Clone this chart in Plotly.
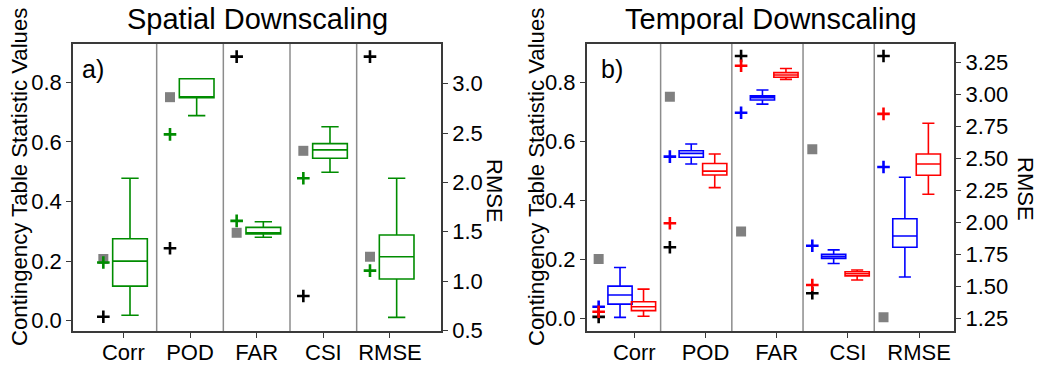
import plotly.graph_objects as go

categories = ["Corr", "POD", "FAR", "CSI", "RMSE"]

# ---- Spatial downscaling (panel a); last entry (RMSE) is on the right axis
spatial_lower = [0.018, 0.688, 0.280, 0.498, 0.633]
spatial_q1 = [0.116, 0.748, 0.291, 0.545, 1.022]
spatial_median = [0.200, 0.748, 0.295, 0.573, 1.247]
spatial_q3 = [0.275, 0.812, 0.313, 0.594, 1.467]
spatial_upper = [0.478, 0.812, 0.332, 0.651, 2.042]
spatial_gray = [0.207, 0.750, 0.295, 0.570, 1.247]
spatial_green_plus = [0.195, 0.625, 0.335, 0.478, 1.106]
spatial_black_plus = [0.013, 0.243, 0.886, 0.083, 3.274]

# ---- Temporal downscaling (panel b)
temporal_gray = [0.201, 0.751, 0.294, 0.573, 1.258]
temporal_black_plus = [0.005, 0.241, 0.889, 0.085, 3.302]
temporal_blue_plus = [0.039, 0.548, 0.697, 0.246, 2.434]
temporal_red_plus = [0.022, 0.322, 0.856, 0.113, 2.849]

blue_lower = [0.003, 0.523, 0.726, 0.186, 1.573]
blue_q1 = [0.048, 0.546, 0.740, 0.203, 1.806]
blue_median = [0.079, 0.559, 0.748, 0.210, 1.894]
blue_q3 = [0.109, 0.568, 0.754, 0.217, 2.029]
blue_upper = [0.172, 0.591, 0.774, 0.232, 2.353]

red_lower = [0.007, 0.443, 0.810, 0.130, 2.220]
red_q1 = [0.026, 0.486, 0.817, 0.144, 2.369]
red_median = [0.039, 0.499, 0.825, 0.151, 2.457]
red_q3 = [0.056, 0.525, 0.833, 0.158, 2.536]
red_upper = [0.099, 0.557, 0.847, 0.164, 2.776]

GREEN = "rgb(0,140,0)"
BLUE = "rgb(0,0,255)"
RED = "rgb(255,0,0)"
GRAY = "rgb(128,128,128)"
AX = "#3a3a3a"
FONT = "Liberation Sans, Arial, Helvetica, sans-serif"

fig = go.Figure()
n = len(categories)
idx = list(range(n))


def add_box(xpos, lo, q1, med, q3, hi, color, width, xa, ya_main, ya_rmse):
    # statistics boxes on the left axis (all but RMSE)
    fig.add_trace(go.Box(
        x=[xpos[i] for i in range(n - 1)],
        lowerfence=lo[:-1], q1=q1[:-1], median=med[:-1], q3=q3[:-1], upperfence=hi[:-1],
        width=width, whiskerwidth=0.5, fillcolor="rgba(255,255,255,0)",
        line=dict(color=color, width=1.6), boxpoints=False,
        xaxis=xa, yaxis=ya_main, showlegend=False, hoverinfo="skip"))
    fig.add_trace(go.Box(
        x=[xpos[-1]],
        lowerfence=lo[-1:], q1=q1[-1:], median=med[-1:], q3=q3[-1:], upperfence=hi[-1:],
        width=width, whiskerwidth=0.5, fillcolor="rgba(255,255,255,0)",
        line=dict(color=color, width=1.6), boxpoints=False,
        xaxis=xa, yaxis=ya_rmse, showlegend=False, hoverinfo="skip"))


def add_markers(xpos, vals, kind, color, xa, ya_main, ya_rmse):
    if kind == "square":
        marker = dict(symbol="square", size=10, color=color, line=dict(width=0))
    else:
        marker = dict(symbol="cross-thin", size=9, color=color, line=dict(color=color, width=2.6))
    fig.add_trace(go.Scatter(x=xpos[:-1], y=vals[:-1], mode="markers", marker=marker,
                             xaxis=xa, yaxis=ya_main, showlegend=False, hoverinfo="skip"))
    fig.add_trace(go.Scatter(x=xpos[-1:], y=vals[-1:], mode="markers", marker=marker,
                             xaxis=xa, yaxis=ya_rmse, showlegend=False, hoverinfo="skip"))


# Panel a
xa_mark = [i - 0.3 for i in idx]
xa_box = [i + 0.1 for i in idx]
add_box(xa_box, spatial_lower, spatial_q1, spatial_median, spatial_q3, spatial_upper,
        GREEN, 0.52, "x", "y", "y2")
add_markers(xa_mark, spatial_gray, "square", GRAY, "x", "y", "y2")
add_markers(xa_mark, spatial_green_plus, "plus", GREEN, "x", "y", "y2")
add_markers(xa_mark, spatial_black_plus, "plus", "black", "x", "y", "y2")

# Panel b
xb_mark = [i - 0.5 for i in idx]
xb_blue = [i - 0.2 for i in idx]
xb_red = [i + 0.13 for i in idx]
add_box(xb_blue, blue_lower, blue_q1, blue_median, blue_q3, blue_upper,
        BLUE, 0.34, "x2", "y3", "y4")
add_box(xb_red, red_lower, red_q1, red_median, red_q3, red_upper,
        RED, 0.34, "x2", "y3", "y4")
add_markers(xb_mark, temporal_gray, "square", GRAY, "x2", "y3", "y4")
add_markers(xb_mark, temporal_black_plus, "plus", "black", "x2", "y3", "y4")
add_markers(xb_mark, temporal_blue_plus, "plus", BLUE, "x2", "y3", "y4")
add_markers(xb_mark, temporal_red_plus, "plus", RED, "x2", "y3", "y4")

# separators
shapes = []
for i in range(n - 1):
    shapes.append(dict(type="line", xref="x", yref="y domain", x0=i + 0.5, x1=i + 0.5,
                       y0=0, y1=1, line=dict(color="#8c8c8c", width=1.5), layer="below"))
    shapes.append(dict(type="line", xref="x2", yref="y3 domain", x0=i + 0.37, x1=i + 0.37,
                       y0=0, y1=1, line=dict(color="#8c8c8c", width=1.5), layer="below"))

ydom = [0.103, 0.8808]
tickfont = dict(family=FONT, size=22, color="black")
common_x = dict(tickmode="array", tickvals=idx, ticktext=categories, ticks="outside",
                ticklen=5, tickcolor=AX, showline=True, linecolor=AX, linewidth=1.5,
                mirror=True, showgrid=False, zeroline=False, tickfont=tickfont,
                automargin=False, ticklabelstandoff=-4)
common_y = dict(ticks="outside", ticklen=5, tickcolor=AX, showline=True, linecolor=AX,
                linewidth=1.5, showgrid=False, zeroline=False, tickfont=tickfont, domain=ydom,
                automargin=False)

fig.update_layout(
    width=1042, height=369, margin=dict(l=0, r=0, t=0, b=0, autoexpand=False),
    paper_bgcolor="white", plot_bgcolor="white", boxmode="overlay",
    font=dict(family=FONT, color="black"),
    xaxis=dict(domain=[0.07006, 0.42322], range=[-0.755, 4.765], anchor="y", **common_x),
    yaxis=dict(range=[-0.0346, 0.9285], tickvals=[0, 0.2, 0.4, 0.6, 0.8], tickformat=".1f",
               anchor="x", **common_y),
    yaxis2=dict(range=[0.495, 3.402], tickvals=[0.5, 1.0, 1.5, 2.0, 2.5, 3.0], tickformat=".1f",
                overlaying="y", side="right", anchor="x", **common_y),
    xaxis2=dict(domain=[0.56305, 0.91583], range=[-0.668, 4.494], anchor="y3", **common_x),
    yaxis3=dict(range=[-0.043, 0.930], tickvals=[0, 0.2, 0.4, 0.6, 0.8], tickformat=".1f",
                anchor="x2", **common_y),
    yaxis4=dict(range=[1.151, 3.396], tickvals=[1.25, 1.5, 1.75, 2.0, 2.25, 2.5, 2.75, 3.0, 3.25],
                tickformat=".2f", overlaying="y3", side="right", anchor="x2", **common_y),
    shapes=shapes,
)

ann = [
    dict(text="Spatial Downscaling", x=257 / 1042, y=1 - 19 / 369, font=dict(size=29)),
    dict(text="Temporal Downscaling", x=771 / 1042, y=1 - 19 / 369, font=dict(size=29)),
    dict(text="a)", x=93 / 1042, y=1 - 69 / 369, font=dict(size=25)),
    dict(text="b)", x=612 / 1042, y=1 - 69 / 369, font=dict(size=25)),
    dict(text="Contingency Table Statistic Values", x=19 / 1042, y=1 - 177 / 369,
         textangle=-90, font=dict(size=22.2)),
    dict(text="Contingency Table Statistic Values", x=536 / 1042, y=1 - 177 / 369,
         textangle=-90, font=dict(size=22.2)),
    dict(text="RMSE", x=495 / 1042, y=1 - 191 / 369, textangle=90, font=dict(size=22)),
    dict(text="RMSE", x=1026 / 1042, y=1 - 189 / 369, textangle=90, font=dict(size=22)),
]
for a in ann:
    a.update(xref="paper", yref="paper", showarrow=False, xanchor="center", yanchor="middle")
    a["font"].update(family=FONT, color="black")
fig.update_layout(annotations=ann)

fig.write_html("out.html")
